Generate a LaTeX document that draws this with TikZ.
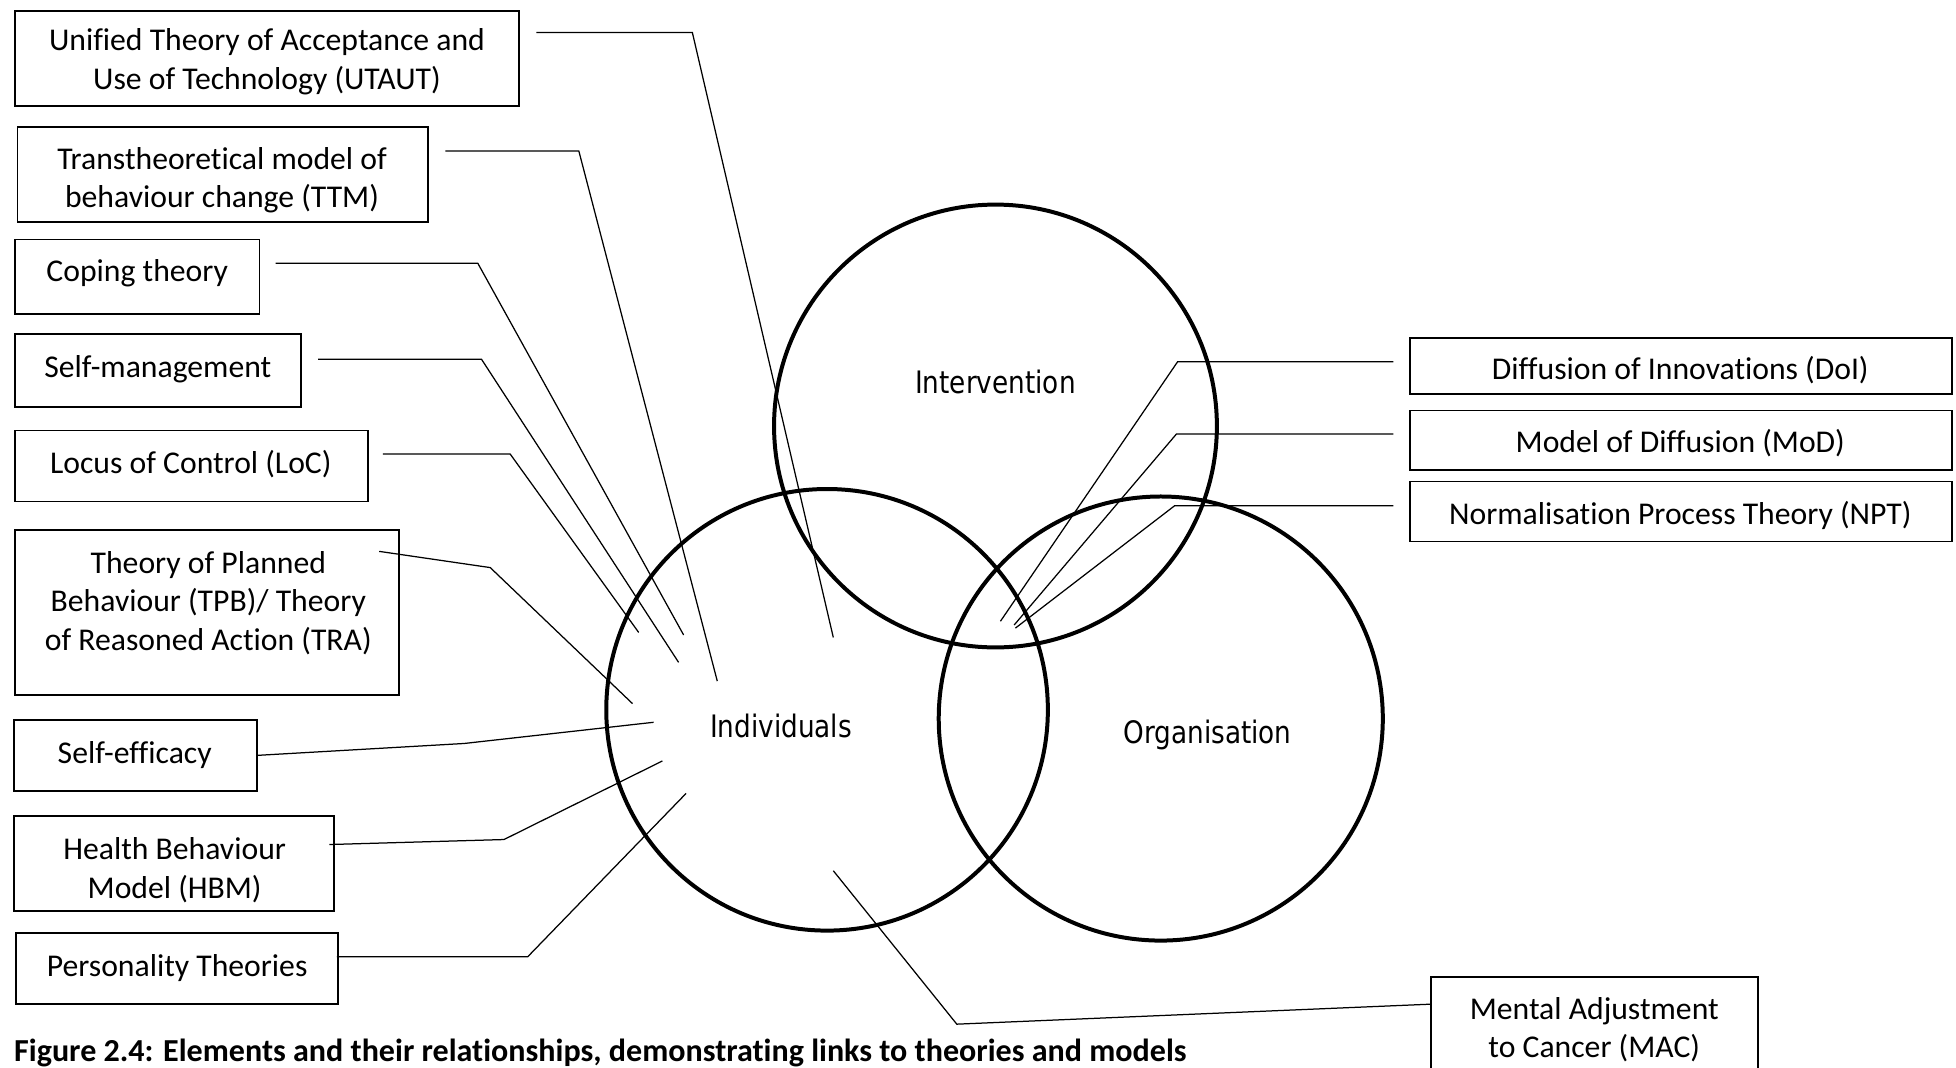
\documentclass[tikz,border=0pt]{standalone}
\usepackage{fontspec}
\setmainfont[Ligatures=NoCommon]{Carlito}
\newfontfamily\circfont[FakeStretch=0.85]{DejaVu Sans}
\usetikzlibrary{calc}

\begin{document}
\begin{tikzpicture}[x=0.5pt,y=-0.5pt,
  theory/.style={draw, line width=0.7pt, rectangle, inner sep=0pt},
  lbl/.style={font=\fontsize{12.7pt}{15.5pt}\selectfont, align=center, inner sep=0pt},
  element/.style={draw, line width=1.6pt, circle, inner sep=0pt},
  elemlbl/.style={font=\circfont\fontsize{12.4pt}{14pt}\selectfont, inner sep=0pt},
  link/.style={line width=0.5pt, line join=miter}]

\useasboundingbox (0,0) rectangle (1568,856);

% --- the three overlapping elements
\node[element, minimum size=177.5pt] (intervention) at (798,341.5) {};
\node[element, minimum size=177pt]   (individuals)  at (663,569) {};
\node[element, minimum size=178pt]   (organisation) at (930.5,576) {};

\node[elemlbl] (intervention-t) at (798,306) {Intervention};
\node[elemlbl] (individuals-t)  at (626,582) {Individuals};
\node[elemlbl] (organisation-t) at (968,589) {Organisation};

% --- theory boxes, left column
\node[theory, minimum width=202pt,   minimum height=38pt]   (utaut)   at (214,47) {};
\node[theory, minimum width=164.5pt, minimum height=38pt]   (ttm)     at (178.5,140) {};
\node[theory, minimum width=98pt,    minimum height=30pt]   (coping)  at (110,222) {};
\node[theory, minimum width=114.5pt, minimum height=29pt]   (selfman) at (126.5,297) {};
\node[theory, minimum width=141.5pt, minimum height=28.5pt] (loc)     at (153.5,373.5) {};
\node[theory, minimum width=154pt,   minimum height=66pt]   (tpb)     at (166,491) {};
\node[theory, minimum width=97.5pt,  minimum height=28.5pt] (selfeff) at (108.5,605.5) {};
\node[theory, minimum width=128.5pt, minimum height=38pt]   (hbm)     at (139.5,692) {};
\node[theory, minimum width=129pt,   minimum height=28.5pt] (pers)    at (142,776.5) {};

% --- theory boxes, right column
\node[theory, minimum width=217.5pt, minimum height=22.5pt] (doi) at (1347.5,293.5) {};
\node[theory, minimum width=217.5pt, minimum height=24pt]   (mod) at (1347.5,353) {};
\node[theory, minimum width=217.5pt, minimum height=24pt]   (npt) at (1347.5,410) {};
\node[theory, minimum width=131pt,   minimum height=50pt]   (mac) at (1278,833) {};

% --- box texts
\node[lbl] (utaut-t)   at (214,49.5)  {Unified Theory of Acceptance and\\Use of Technology (UTAUT)};
\node[lbl] (ttm-t)     at (178,144.5) {Transtheoretical model of\\behaviour change (TTM)};
\node[lbl] (coping-t)  at (110,219)   {Coping theory};
\node[lbl] (selfman-t) at (126.5,296) {Self-management};
\node[lbl] (loc-t)     at (153,372)   {Locus of Control (LoC)};
\node[lbl] (tpb-t)     at (167,483.5) {Theory of Planned\\Behaviour (TPB)/ Theory\\of Reasoned Action (TRA)};
\node[lbl] (selfeff-t) at (108,605)   {Self-efficacy};
\node[lbl] (hbm-t)     at (140,697.5) {Health Behaviour\\Model (HBM)};
\node[lbl] (pers-t)    at (142,776)   {Personality Theories};
\node[lbl] (doi-t)     at (1347,297)  {Diffusion of Innovations (DoI)};
\node[lbl] (mod-t)     at (1347,355)  {Model of Diffusion (MoD)};
\node[lbl] (npt-t)     at (1347,413)  {Normalisation Process Theory (NPT)};
\node[lbl] (mac-t)     at (1278,825.5){Mental Adjustment\\to Cancer (MAC)};

% --- caption
\node[lbl, anchor=base west, font=\fontsize{12.85pt}{15.5pt}\selectfont\bfseries] (caption) at (11,851)
  {Figure 2.4: Elements and their relationships, demonstrating links to theories and models};

% --- connector points
\coordinate (utaut-a) at (430,26);    \coordinate (utaut-b) at (555,26);    \coordinate (utaut-c) at (668,511);
\coordinate (ttm-a) at (357,121);     \coordinate (ttm-b) at (464,121);     \coordinate (ttm-c) at (575,546);
\coordinate (coping-a) at (221,211);  \coordinate (coping-b) at (383,211);  \coordinate (coping-c) at (548,509);
\coordinate (selfman-a) at (255,288); \coordinate (selfman-b) at (386,288); \coordinate (selfman-c) at (544,531);
\coordinate (loc-a) at (307,364);     \coordinate (loc-b) at (409,364);     \coordinate (loc-c) at (512,507);
\coordinate (tpb-a) at (304,442);     \coordinate (tpb-b) at (393,455);     \coordinate (tpb-c) at (507,564);
\coordinate (selfeff-b) at (372,596); \coordinate (selfeff-c) at (524,579);
\coordinate (hbm-a) at (264,677);     \coordinate (hbm-b) at (404,673);     \coordinate (hbm-c) at (531,610);
\coordinate (pers-a) at (270,767);    \coordinate (pers-b) at (423,767);    \coordinate (pers-c) at (550,636);
\coordinate (doi-a) at (1117,290);    \coordinate (doi-b) at (944,290);     \coordinate (doi-c) at (802,498);
\coordinate (mod-a) at (1117,348);    \coordinate (mod-b) at (943,348);     \coordinate (mod-c) at (813,501);
\coordinate (npt-a) at (1117,405.5);  \coordinate (npt-b) at (941.5,405.5); \coordinate (npt-c) at (814,503.5);
\coordinate (mac-b) at (767,821);     \coordinate (mac-c) at (668,698);

% --- connectors
\draw[link] (utaut-a) -- (utaut-b) -- (utaut-c);
\draw[link] (ttm-a) -- (ttm-b) -- (ttm-c);
\draw[link] (coping-a) -- (coping-b) -- (coping-c);
\draw[link] (selfman-a) -- (selfman-b) -- (selfman-c);
\draw[link] (loc-a) -- (loc-b) -- (loc-c);
\draw[link] (tpb-a) -- (tpb-b) -- (tpb-c);
\draw[link] (selfeff.east) -- (selfeff-b) -- (selfeff-c);
\draw[link] (hbm-a) -- (hbm-b) -- (hbm-c);
\draw[link] (pers-a) -- (pers-b) -- (pers-c);
\draw[link] (doi-a) -- (doi-b) -- (doi-c);
\draw[link] (mod-a) -- (mod-b) -- (mod-c);
\draw[link] (npt-a) -- (npt-b) -- (npt-c);
\draw[link] (mac.west |- 0,805) -- (mac-b) -- (mac-c);

\end{tikzpicture}
\end{document}
